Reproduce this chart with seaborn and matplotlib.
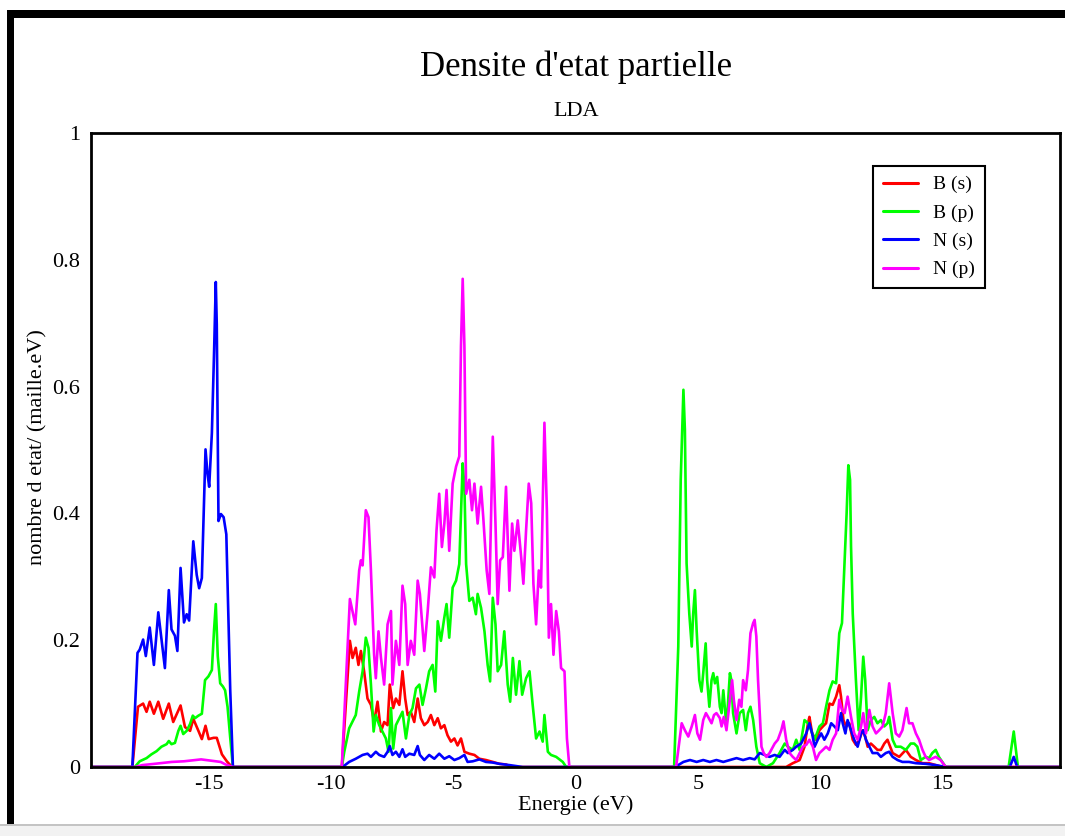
import matplotlib
matplotlib.use("Agg")
import matplotlib.pyplot as plt
import seaborn as sns
import pandas as pd
from matplotlib.patches import Rectangle
from matplotlib.ticker import MultipleLocator, FixedLocator, FixedFormatter

# ---------------- data (energy eV, DOS) ----------------
series_labels = ["B (s)", "B (p)", "N (s)", "N (p)"]
series_colors = ["#ff0000", "#00ff00", "#0000ff", "#ff00ff"]

x_limits = (-19.8, 19.8)
y_limits = (0, 1)
xtick_major = [-15, -10, -5, 0, 5, 10, 15]
xtick_labels = ["-15", "-10", "-5", "0", "5", "10", "15"]
ytick_vals = [0, 0.2, 0.4, 0.6, 0.8, 1.0]
ytick_labels = ["0", "0.2", "0.4", "0.6", "0.8", "1"]

# B (s)
bs_band1 = [(-18.11, 0), (-17.88, 0.095), (-17.67, 0.1), (-17.53, 0.087), (-17.40, 0.103),
            (-17.23, 0.084), (-17.05, 0.103), (-16.85, 0.076), (-16.62, 0.1), (-16.44, 0.071),
            (-16.14, 0.097), (-15.96, 0.063), (-15.75, 0.057), (-15.62, 0.076), (-15.41, 0.057),
            (-15.27, 0.044), (-15.12, 0.065), (-14.99, 0.044), (-14.79, 0.046), (-14.66, 0.046),
            (-14.45, 0.02), (-14.25, 0.009), (-14.04, 0)]
bs_band2 = [(-9.55, 0), (-9.22, 0.199), (-9.11, 0.172), (-8.98, 0.188), (-8.87, 0.161),
            (-8.77, 0.183), (-8.64, 0.151), (-8.50, 0.108), (-8.36, 0.098), (-8.23, 0.071),
            (-8.09, 0.103), (-7.95, 0.056), (-7.82, 0.071), (-7.68, 0.066), (-7.59, 0.13),
            (-7.45, 0.093), (-7.34, 0.108), (-7.20, 0.098), (-7.07, 0.151), (-6.96, 0.108),
            (-6.86, 0.082), (-6.73, 0.087), (-6.59, 0.071), (-6.45, 0.108), (-6.32, 0.077),
            (-6.18, 0.066), (-6.04, 0.071), (-5.91, 0.082), (-5.77, 0.066), (-5.63, 0.077),
            (-5.50, 0.061), (-5.36, 0.066), (-5.23, 0.05), (-5.09, 0.04), (-4.95, 0.045),
            (-4.82, 0.034), (-4.68, 0.045), (-4.54, 0.024), (-4.34, 0.021), (-4.13, 0.019),
            (-3.93, 0.013), (-3.66, 0.011), (-3.38, 0.008), (-3.11, 0.005), (-2.84, 0.004),
            (-2.63, 0)]
bs_band3 = [(7.80, 0), (8.21, 0), (8.61, 0), (8.88, 0.006), (9.16, 0.011), (9.36, 0.032),
            (9.50, 0.069), (9.56, 0.079), (9.67, 0.053), (9.83, 0.043), (9.97, 0.058),
            (10.11, 0.064), (10.24, 0.069), (10.38, 0.1), (10.51, 0.098), (10.65, 0.111),
            (10.78, 0.129), (10.85, 0.111), (10.95, 0.074), (11.06, 0.064), (11.19, 0.069),
            (11.33, 0.043), (11.46, 0.035), (11.60, 0.043), (11.73, 0.058), (11.84, 0.048),
            (11.94, 0.032), (12.07, 0.037), (12.21, 0.032), (12.34, 0.027), (12.48, 0.027),
            (12.62, 0.037), (12.75, 0.043), (12.96, 0.022), (13.23, 0.016), (13.50, 0.027),
            (13.70, 0.016), (13.91, 0.011), (14.18, 0.006), (14.45, 0.006), (14.72, 0.003),
            (14.99, 0)]

# B (p)
bp_band1 = [(-18.01, 0), (-17.81, 0.009), (-17.53, 0.014), (-17.33, 0.02), (-17.12, 0.025),
            (-16.92, 0.032), (-16.71, 0.036), (-16.62, 0.041), (-16.51, 0.036), (-16.37, 0.038),
            (-16.23, 0.057), (-16.14, 0.065), (-16.03, 0.052), (-15.89, 0.057), (-15.75, 0.068),
            (-15.64, 0.081), (-15.55, 0.077), (-15.41, 0.081), (-15.27, 0.084), (-15.14, 0.137),
            (-15.0, 0.143), (-14.86, 0.153), (-14.77, 0.217), (-14.70, 0.257), (-14.62, 0.175),
            (-14.52, 0.132), (-14.41, 0.127), (-14.32, 0.121), (-14.22, 0.095), (-14.11, 0.046),
            (-14.0, 0)]
bp_band2 = [(-9.55, 0), (-9.45, 0.024), (-9.25, 0.061), (-8.98, 0.082), (-8.84, 0.119),
            (-8.70, 0.151), (-8.57, 0.204), (-8.46, 0.188), (-8.36, 0.13), (-8.25, 0.056),
            (-8.16, 0.082), (-8.02, 0.066), (-7.89, 0.056), (-7.75, 0.045), (-7.64, 0.024),
            (-7.54, 0.093), (-7.45, 0.029), (-7.34, 0.066), (-7.20, 0.077), (-7.07, 0.087),
            (-6.93, 0.045), (-6.79, 0.082), (-6.66, 0.093), (-6.52, 0.124), (-6.38, 0.13),
            (-6.25, 0.098), (-6.11, 0.124), (-5.98, 0.151), (-5.84, 0.161), (-5.73, 0.119),
            (-5.63, 0.23), (-5.50, 0.199), (-5.36, 0.236), (-5.27, 0.257), (-5.16, 0.204),
            (-5.02, 0.283), (-4.88, 0.294), (-4.75, 0.32), (-4.61, 0.479), (-4.54, 0.442),
            (-4.47, 0.32), (-4.34, 0.262), (-4.20, 0.267), (-4.07, 0.241), (-4.0, 0.273),
            (-3.86, 0.251), (-3.72, 0.214), (-3.59, 0.161), (-3.49, 0.135), (-3.38, 0.267),
            (-3.27, 0.225), (-3.18, 0.151), (-3.04, 0.161), (-2.91, 0.214), (-2.77, 0.13),
            (-2.67, 0.103), (-2.56, 0.172), (-2.43, 0.114), (-2.29, 0.167), (-2.18, 0.114),
            (-2.02, 0.14), (-1.88, 0.151), (-1.75, 0.098), (-1.61, 0.045), (-1.47, 0.056),
            (-1.34, 0.04), (-1.27, 0.082), (-1.13, 0.024), (-1.0, 0.019), (-0.79, 0.016),
            (-0.52, 0.008), (-0.38, 0)]
bp_band3 = [(4.03, 0), (4.20, 0.19), (4.30, 0.453), (4.41, 0.595), (4.47, 0.532), (4.54, 0.321),
            (4.65, 0.242), (4.75, 0.19), (4.81, 0.242), (4.88, 0.279), (4.95, 0.216),
            (5.06, 0.137), (5.15, 0.119), (5.22, 0.148), (5.32, 0.195), (5.38, 0.137),
            (5.47, 0.095), (5.56, 0.137), (5.63, 0.148), (5.70, 0.132), (5.79, 0.142),
            (5.90, 0.095), (5.97, 0.085), (6.04, 0.121), (6.17, 0.064), (6.31, 0.148),
            (6.37, 0.137), (6.44, 0.085), (6.58, 0.053), (6.71, 0.085), (6.85, 0.09),
            (6.96, 0.058), (7.05, 0.085), (7.15, 0.095), (7.26, 0.074), (7.39, 0.032),
            (7.53, 0.006), (7.80, 0), (8.07, 0.006), (8.34, 0.022), (8.55, 0.037),
            (8.68, 0.032), (8.88, 0.027), (9.02, 0.043), (9.16, 0.027), (9.36, 0.074),
            (9.50, 0.069), (9.63, 0.058), (9.77, 0.043), (9.97, 0.064), (10.11, 0.069),
            (10.24, 0.095), (10.38, 0.121), (10.51, 0.135), (10.65, 0.132), (10.78, 0.211),
            (10.89, 0.227), (10.99, 0.316), (11.08, 0.4), (11.15, 0.476), (11.22, 0.453),
            (11.26, 0.348), (11.33, 0.242), (11.46, 0.137), (11.57, 0.058), (11.67, 0.111),
            (11.76, 0.174), (11.84, 0.137), (11.94, 0.058), (12.07, 0.074), (12.21, 0.079),
            (12.34, 0.069), (12.48, 0.074), (12.62, 0.064), (12.75, 0.069), (12.82, 0.079),
            (12.96, 0.043), (13.09, 0.032), (13.29, 0.032), (13.50, 0.027), (13.70, 0.037),
            (13.84, 0.037), (13.97, 0.032), (14.11, 0.011), (14.31, 0.016), (14.45, 0.014),
            (14.58, 0.022), (14.72, 0.027), (14.85, 0.016), (14.99, 0.008), (15.13, 0)]
bp_band4 = [(17.70, 0), (17.91, 0.056), (18.08, 0)]

# N (s)
ns_band1 = [(-18.11, 0), (-17.90, 0.18), (-17.81, 0.185), (-17.67, 0.201), (-17.56, 0.175),
            (-17.40, 0.22), (-17.23, 0.161), (-17.05, 0.244), (-16.92, 0.201), (-16.78, 0.156),
            (-16.62, 0.279), (-16.51, 0.217), (-16.37, 0.207), (-16.27, 0.183), (-16.14, 0.314),
            (-16.0, 0.228), (-15.89, 0.241), (-15.79, 0.231), (-15.62, 0.356), (-15.48, 0.303),
            (-15.38, 0.282), (-15.27, 0.298), (-15.12, 0.501), (-15.04, 0.463), (-14.97, 0.442),
            (-14.86, 0.527), (-14.77, 0.655), (-14.70, 0.765), (-14.66, 0.698), (-14.59, 0.388),
            (-14.49, 0.399), (-14.38, 0.394), (-14.27, 0.367), (-14.11, 0.121), (-14.0, 0)]
ns_band2 = [(-9.52, 0), (-9.25, 0.008), (-8.98, 0.013), (-8.70, 0.019), (-8.50, 0.021),
            (-8.36, 0.016), (-8.16, 0.024), (-8.02, 0.019), (-7.82, 0.016), (-7.68, 0.024),
            (-7.59, 0.033), (-7.48, 0.019), (-7.34, 0.024), (-7.20, 0.016), (-7.07, 0.028),
            (-6.96, 0.016), (-6.79, 0.021), (-6.59, 0.019), (-6.45, 0.033), (-6.36, 0.019),
            (-6.18, 0.011), (-5.98, 0.019), (-5.77, 0.013), (-5.57, 0.021), (-5.36, 0.013),
            (-5.16, 0.017), (-4.95, 0.011), (-4.75, 0.014), (-4.54, 0.019), (-4.41, 0.008),
            (-4.20, 0.009), (-3.93, 0.012), (-3.66, 0.008), (-3.38, 0.007), (-3.11, 0.005),
            (-2.70, 0.003), (-2.16, 0)]
ns_band3 = [(4.07, 0), (4.41, 0.008), (4.68, 0.011), (4.95, 0.008), (5.22, 0.011), (5.49, 0.008),
            (5.76, 0.011), (6.04, 0.008), (6.31, 0.011), (6.58, 0.014), (6.85, 0.011),
            (7.12, 0.014), (7.32, 0.012), (7.53, 0.022), (7.73, 0.019), (7.93, 0.016),
            (8.14, 0.019), (8.34, 0.016), (8.55, 0.027), (8.68, 0.022), (8.88, 0.027),
            (9.02, 0.032), (9.22, 0.037), (9.43, 0.053), (9.56, 0.069), (9.67, 0.053),
            (9.77, 0.032), (9.90, 0.043), (10.04, 0.053), (10.17, 0.043), (10.31, 0.053),
            (10.45, 0.069), (10.58, 0.064), (10.72, 0.058), (10.85, 0.085), (10.92, 0.069),
            (11.03, 0.053), (11.12, 0.074), (11.26, 0.058), (11.39, 0.043), (11.53, 0.032),
            (11.67, 0.053), (11.76, 0.058), (11.87, 0.043), (12.01, 0.032), (12.14, 0.022),
            (12.34, 0.022), (12.48, 0.016), (12.68, 0.022), (12.82, 0.024), (12.96, 0.016),
            (13.16, 0.011), (13.36, 0.008), (13.63, 0.008), (13.91, 0.006), (14.31, 0.005),
            (14.72, 0.003), (15.13, 0)]
ns_band4 = [(17.75, 0), (17.91, 0.016), (18.05, 0)]

# N (p)
np_band1 = [(-18.0, 0), (-17.7, 0.003), (-17.2, 0.005), (-16.5, 0.008), (-16.0, 0.009),
            (-15.3, 0.012), (-14.9, 0.01), (-14.5, 0.008), (-14.3, 0.004), (-14.0, 0)]
np_band2 = [(-9.55, 0), (-9.22, 0.265), (-9.0, 0.225), (-8.84, 0.31), (-8.77, 0.326),
            (-8.70, 0.318), (-8.57, 0.405), (-8.46, 0.394), (-8.36, 0.31), (-8.23, 0.177),
            (-8.16, 0.14), (-8.05, 0.214), (-7.95, 0.172), (-7.82, 0.13), (-7.68, 0.225),
            (-7.54, 0.246), (-7.48, 0.13), (-7.34, 0.199), (-7.20, 0.161), (-7.07, 0.286),
            (-6.96, 0.257), (-6.86, 0.161), (-6.73, 0.199), (-6.59, 0.177), (-6.45, 0.294),
            (-6.36, 0.273), (-6.18, 0.183), (-6.04, 0.246), (-5.91, 0.315), (-5.77, 0.299),
            (-5.68, 0.373), (-5.57, 0.431), (-5.46, 0.347), (-5.36, 0.384), (-5.27, 0.437),
            (-5.16, 0.341), (-5.02, 0.447), (-4.88, 0.474), (-4.75, 0.49), (-4.68, 0.664),
            (-4.61, 0.77), (-4.54, 0.664), (-4.47, 0.431), (-4.34, 0.453), (-4.23, 0.405),
            (-4.13, 0.447), (-4.0, 0.384), (-3.86, 0.442), (-3.77, 0.394), (-3.63, 0.31),
            (-3.52, 0.273), (-3.38, 0.521), (-3.27, 0.384), (-3.18, 0.257), (-3.08, 0.326),
            (-2.97, 0.331), (-2.84, 0.442), (-2.70, 0.278), (-2.59, 0.384), (-2.50, 0.341),
            (-2.36, 0.389), (-2.22, 0.331), (-2.13, 0.289), (-2.02, 0.373), (-1.91, 0.447),
            (-1.81, 0.416), (-1.72, 0.289), (-1.61, 0.225), (-1.50, 0.31), (-1.41, 0.283),
            (-1.27, 0.543), (-1.17, 0.405), (-1.09, 0.204), (-1.0, 0.257), (-0.90, 0.177),
            (-0.79, 0.246), (-0.68, 0.214), (-0.59, 0.156), (-0.45, 0.151), (-0.35, 0.045),
            (-0.25, 0)]
np_band3 = [(4.11, 0), (4.34, 0.069), (4.47, 0.058), (4.61, 0.048), (4.75, 0.064), (4.88, 0.082),
            (4.98, 0.053), (5.09, 0.043), (5.22, 0.074), (5.33, 0.085), (5.42, 0.079),
            (5.56, 0.069), (5.66, 0.082), (5.76, 0.085), (5.90, 0.077), (5.97, 0.064),
            (6.06, 0.079), (6.17, 0.058), (6.31, 0.106), (6.40, 0.137), (6.47, 0.106),
            (6.58, 0.074), (6.69, 0.106), (6.78, 0.095), (6.85, 0.137), (6.96, 0.121),
            (7.05, 0.153), (7.15, 0.211), (7.26, 0.227), (7.32, 0.232), (7.39, 0.206),
            (7.46, 0.137), (7.53, 0.085), (7.60, 0.032), (7.69, 0.022), (7.80, 0.016),
            (7.93, 0.022), (8.14, 0.037), (8.27, 0.043), (8.41, 0.058), (8.50, 0.072),
            (8.61, 0.043), (8.75, 0.022), (8.88, 0.016), (9.02, 0.011), (9.16, 0.022),
            (9.29, 0.032), (9.43, 0.035), (9.56, 0.043), (9.70, 0.032), (9.83, 0.011),
            (9.97, 0.022), (10.11, 0.027), (10.24, 0.032), (10.38, 0.027), (10.51, 0.043),
            (10.65, 0.053), (10.78, 0.106), (10.89, 0.09), (11.00, 0.085), (11.12, 0.111),
            (11.26, 0.079), (11.39, 0.053), (11.53, 0.043), (11.67, 0.064), (11.76, 0.085),
            (11.87, 0.053), (12.01, 0.09), (12.14, 0.064), (12.28, 0.053), (12.41, 0.058),
            (12.55, 0.064), (12.68, 0.085), (12.82, 0.132), (12.96, 0.085), (13.09, 0.053),
            (13.23, 0.048), (13.36, 0.058), (13.53, 0.093), (13.63, 0.069), (13.77, 0.069),
            (13.91, 0.053), (14.04, 0.043), (14.18, 0.027), (14.31, 0.016), (14.45, 0.011),
            (14.72, 0.016), (14.92, 0.011), (15.13, 0)]

series_bands = {
    "B (s)": [bs_band1, bs_band2, bs_band3],
    "B (p)": [bp_band1, bp_band2, bp_band3, bp_band4],
    "N (s)": [ns_band1, ns_band2, ns_band3, ns_band4],
    "N (p)": [np_band1, np_band2, np_band3],
}

rows = []
for lab in series_labels:
    pts = [(x_limits[0], 0.0)]
    for band in series_bands[lab]:
        pts.extend(band)
    pts.append((x_limits[1], 0.0))
    for e, d in pts:
        rows.append({"energy": e, "dos": d, "orbital": lab})
df = pd.DataFrame(rows)

# ---------------- figure ----------------
sns.set_style("white")
plt.rcParams["font.family"] = ["Liberation Serif", "DejaVu Serif"]
plt.rcParams["axes.unicode_minus"] = False
for key in ["text.color", "axes.labelcolor", "xtick.color", "ytick.color"]:
    plt.rcParams[key] = "black"

W, H = 1065, 836
fig = plt.figure(figsize=(W / 100, H / 100), dpi=100)
fig.patch.set_facecolor("white")

# screenshot-like frame decorations
fig.patches.append(Rectangle((7 / W, 1 - 18 / H), 1 - 7 / W, 8 / H, transform=fig.transFigure,
                             facecolor="black", edgecolor="none", zorder=0))
fig.patches.append(Rectangle((7 / W, 1 - 824 / H), 7 / W, 814 / H, transform=fig.transFigure,
                             facecolor="black", edgecolor="none", zorder=0))
fig.patches.append(Rectangle((0, 0), 1, 12 / H, transform=fig.transFigure,
                             facecolor="#f2f2f2", edgecolor="none", zorder=0))
fig.patches.append(Rectangle((0, 10 / H), 1, 2 / H, transform=fig.transFigure,
                             facecolor="#c4c4c4", edgecolor="none", zorder=0))

ax_left, ax_right, ax_top, ax_bottom = 91, 1060, 133, 767
ax = fig.add_axes([ax_left / W, 1 - ax_bottom / H, (ax_right - ax_left) / W, (ax_bottom - ax_top) / H])

sns.lineplot(data=df, x="energy", y="dos", hue="orbital", hue_order=series_labels,
             palette=series_colors, estimator=None, sort=False, linewidth=1.9, ax=ax)

ax.set_xlim(*x_limits)
ax.set_ylim(*y_limits)
ax.xaxis.set_major_locator(FixedLocator(xtick_major))
ax.xaxis.set_major_formatter(FixedFormatter(xtick_labels))
ax.xaxis.set_minor_locator(MultipleLocator(1))
ax.yaxis.set_major_locator(FixedLocator(ytick_vals))
ax.yaxis.set_major_formatter(FixedFormatter(ytick_labels))

ax.tick_params(axis="both", which="major", direction="in", length=11, width=1.5,
               labelsize=16, color="black", labelcolor="black", top=False, right=False)
ax.tick_params(axis="both", which="minor", direction="in", length=5.5, width=1.5,
               color="black", top=False, right=False)
ax.tick_params(axis="x", which="major", pad=6)
ax.tick_params(axis="y", which="major", pad=8)

for sp in ax.spines.values():
    sp.set_visible(True)
    sp.set_color("black")
    sp.set_linewidth(2)

ax.set_xlabel("Energie (eV)", fontsize=16, va="center", color="black")
ax.xaxis.set_label_coords(0.5, (ax_bottom - 805) / (ax_bottom - ax_top))
ax.set_ylabel("nombre d etat/ (maille.eV)", fontsize=16, va="center", color="black")
ax.yaxis.set_label_coords((38 - ax_left) / (ax_right - ax_left), (ax_bottom - 447) / (ax_bottom - ax_top))

fig.text(576 / W, 1 - 67 / H, "Densite d'etat partielle", ha="center", va="center",
         fontsize=25, color="black")
fig.text(576 / W, 1 - 112 / H, "LDA", ha="center", va="center", fontsize=16, color="black")

handles, labels = ax.get_legend_handles_labels()
leg = ax.legend(handles, labels, loc="upper left",
                bbox_to_anchor=((873 - ax_left) / (ax_right - ax_left), 1 - (166 - ax_top) / (ax_bottom - ax_top)),
                frameon=True, fancybox=False, shadow=False, framealpha=1, edgecolor="black",
                fontsize=14, handlelength=1.8, handletextpad=0.8, labelspacing=0.55,
                borderpad=0.5, borderaxespad=0)
leg.get_frame().set_linewidth(1.5)
for t in leg.get_texts():
    t.set_color("black")
for line in leg.get_lines():
    line.set_linewidth(2.2)

fig.savefig("out.png", dpi=100)
